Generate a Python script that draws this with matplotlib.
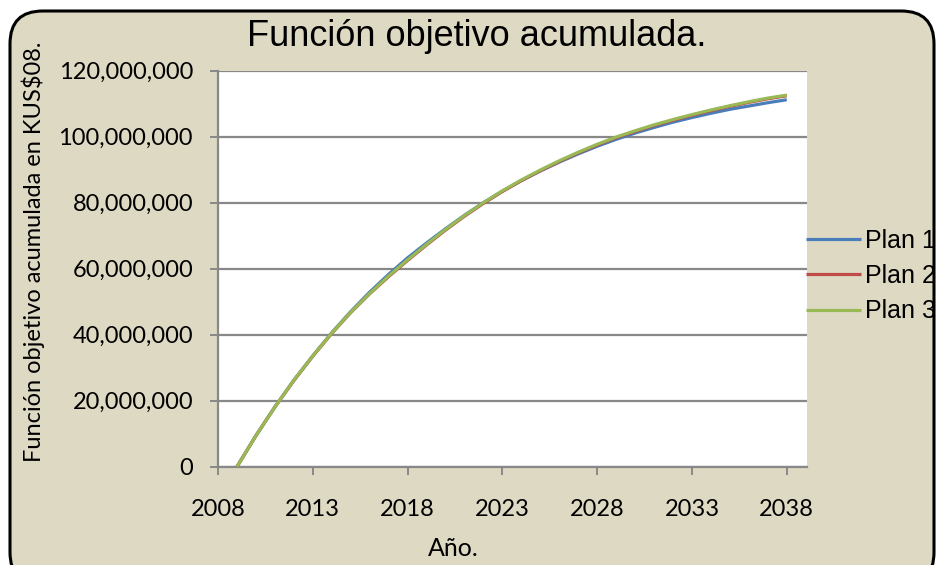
import matplotlib
matplotlib.use("Agg")
import matplotlib.pyplot as plt
from matplotlib.patches import FancyBboxPatch
from matplotlib.ticker import FuncFormatter

# years and cumulative objective (millions of KUS$08)
years = list(range(2009, 2039))
plan1 = [0, 9.4, 18.1, 26.2, 33.6, 40.6, 47.0, 52.9, 58.3, 63.3, 67.8,
         72.1, 76.2, 80.0, 83.5, 86.7, 89.6, 92.3, 94.8, 97.1, 99.2,
         101.1, 102.8, 104.4, 105.8, 107.1, 108.3, 109.3, 110.3, 111.2]
plan2 = [0, 9.4, 18.1, 26.1, 33.5, 40.4, 46.7, 52.4, 57.6, 62.5, 67.2,
         71.7, 75.9, 79.8, 83.4, 86.7, 89.7, 92.5, 95.1, 97.5, 99.7,
         101.6, 103.4, 105.0, 106.5, 107.9, 109.2, 110.4, 111.5, 112.4]
plan3 = [0, 9.4, 18.1, 26.2, 33.6, 40.5, 46.8, 52.5, 57.8, 62.7, 67.4,
         71.9, 76.1, 80.0, 83.6, 86.9, 89.9, 92.7, 95.3, 97.7, 99.9,
         101.8, 103.6, 105.2, 106.7, 108.1, 109.4, 110.6, 111.7, 112.6]
series_names = ["Plan 1", "Plan 2", "Plan 3"]
series_colors = ["#4A7EBB", "#BE4B48", "#98B954"]
y_ticks = [0, 20e6, 40e6, 60e6, 80e6, 100e6, 120e6]
x_ticks = [2008, 2013, 2018, 2023, 2028, 2033, 2038]

W, H = 936, 565
fig = plt.figure(figsize=(W / 100, H / 100), dpi=100)
fig.patch.set_facecolor("white")

# rounded beige chart area
box = FancyBboxPatch((10 / W, -20 / H), 924 / W, 574 / H,
                     boxstyle="round,pad=0,rounding_size=0.035",
                     transform=fig.transFigure, facecolor="#DDD9C3",
                     edgecolor="black", linewidth=2.2, mutation_aspect=W / H,
                     zorder=-5)
fig.patches.append(box)

ax = fig.add_axes([218 / W, 1 - 466.7 / H, (806.7 - 218) / W, (466.7 - 70.7) / H])
ax.set_zorder(2)
ax.set_facecolor("white")

for vals, name, col in zip([plan1, plan2, plan3], series_names, series_colors):
    ax.plot(years, [v * 1e6 for v in vals], color=col, lw=2.3, label=name,
            solid_capstyle="butt", zorder=3)

ax.set_xlim(2008, 2039.05)
ax.set_ylim(0, 120e6)
ax.set_xticks(x_ticks)
ax.set_yticks(y_ticks)
ax.yaxis.set_major_formatter(FuncFormatter(lambda v, p: "{:,.0f}".format(v)))
ax.grid(axis="y", color="#888888", lw=1.6, zorder=1)
ax.set_axisbelow(True)

for s in ["top", "right"]:
    ax.spines[s].set_visible(False)
for s in ["left", "bottom"]:
    ax.spines[s].set_color("#888888")
    ax.spines[s].set_linewidth(1.6)

tick_font = "Lato"
ax.tick_params(axis="both", colors="#888888", width=1.4, length=6,
               labelcolor="black", labelsize=17)
ax.tick_params(axis="y", pad=12)
ax.tick_params(axis="x", pad=17)
for lab in ax.get_xticklabels() + ax.get_yticklabels():
    lab.set_fontfamily(tick_font)

fig.text(477 / W, 1 - 36 / H, "Función objetivo acumulada.", ha="center",
         va="center", fontsize=26, family="Liberation Sans")
fig.text(453 / W, 1 - 549 / H, "Año.", ha="center", va="center",
         fontsize=18, family=tick_font)
fig.text(33 / W, 1 - 252 / H, "Función objetivo acumulada en KUS$08.",
         ha="center", va="center", rotation=90, fontsize=17, family=tick_font)

leg = ax.legend(loc="center left", bbox_to_anchor=(806 / W, 1 - 276 / H),
                bbox_transform=fig.transFigure, frameon=False,
                prop={"family": "Liberation Sans", "size": 18},
                handlelength=2.2, handletextpad=0.15, labelspacing=0.45,
                borderpad=0, borderaxespad=0)
for line in leg.get_lines():
    line.set_linewidth(2.3)

fig.savefig("out.png", dpi=100, facecolor=fig.get_facecolor())
